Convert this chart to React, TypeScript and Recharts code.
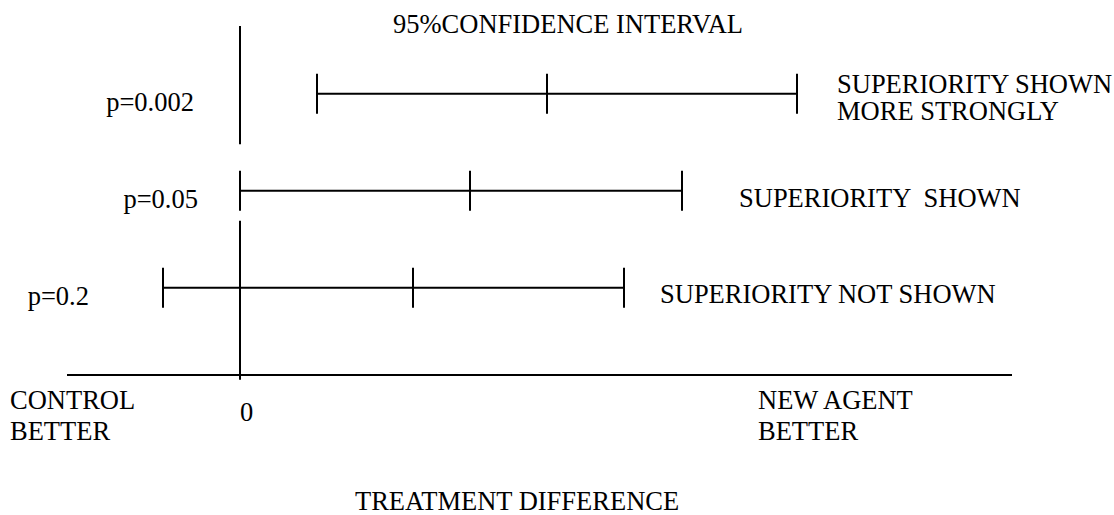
import React from "react";
import {
  ComposedChart,
  XAxis,
  YAxis,
  Scatter,
  ReferenceLine,
  Customized,
} from "recharts";

// rows, top to bottom
const rowNames = ["p=0.002", "p=0.05", "p=0.2"];
const rowLevels = [3, 2, 1];
const lowerBounds = [0.77, 0, -0.77];
const estimates = [3.07, 2.3, 1.73];
const upperBounds = [5.57, 4.42, 3.84];
const outcomeLines = [
  ["SUPERIORITY SHOWN", "MORE STRONGLY"],
  ["SUPERIORITY  SHOWN"],
  ["SUPERIORITY NOT SHOWN"],
];

// axis ranges and the broken zero line
const xRange = [-1.73, 7.72];
const yRange = [0.1, 3.7];
const zeroLineSegments = [
  [3.7, 2.48],
  [1.69, 0.05],
];

const FONT = '"Liberation Serif", "Times New Roman", Times, serif';
const FS = 26.5;
const INK = "#000";
const textStyle = { fontFamily: FONT, fontSize: FS, whiteSpace: "pre" as const };

// layout of the free text (pixels)
const rowLabelRight = [194, 198, 89];
const outcomeX = [837, 739, 660];
const outcomeBaseline = [93, 207, 303];

const intervalData = rowLevels.map((y, i) => [
  { x: lowerBounds[i], y },
  { x: estimates[i], y },
  { x: upperBounds[i], y },
]);

const TickMark = (props: any) => {
  const { cx, cy } = props;
  return (
    <line x1={cx} x2={cx} y1={cy - 20} y2={cy + 20} stroke={INK} strokeWidth={2} />
  );
};

const RowLabel = (props: any) => {
  const { y, payload } = props;
  const i = rowLevels.indexOf(payload.value);
  if (i < 0) return null;
  return (
    <text x={rowLabelRight[i]} y={y + 17} textAnchor="end" fill={INK} style={textStyle}>
      {rowNames[i]}
    </text>
  );
};

const ZeroTick = (props: any) => {
  const { x, y } = props;
  return (
    <text x={x} y={y + 38} textAnchor="start" fill={INK} style={textStyle}>
      0
    </text>
  );
};

const txt = (s: string, x: number, y: number) => (
  <text key={s + x + y} x={x} y={y} fill={INK} style={textStyle}>
    {s}
  </text>
);

const Annotations = () => (
  <g>
    {txt("95%CONFIDENCE INTERVAL", 393, 33)}
    {outcomeLines.map((lines, i) =>
      lines.map((s, j) => txt(s, outcomeX[i], outcomeBaseline[i] + j * 27))
    )}
    {txt("CONTROL", 10, 409)}
    {txt("BETTER", 10, 440)}
    {txt("NEW AGENT", 758, 409)}
    {txt("BETTER", 758, 440)}
    {txt("TREATMENT DIFFERENCE", 355, 510)}
  </g>
);

export default function App() {
  return (
    <div style={{ position: "absolute", left: 0, top: 0, background: "#fff" }}>
      <ComposedChart
        width={1114}
        height={515}
        margin={{ top: 26, right: 102, bottom: 139, left: 66 }}
      >
        <XAxis
          type="number"
          dataKey="x"
          domain={xRange}
          allowDataOverflow
          height={1}
          ticks={[0]}
          tickLine={false}
          axisLine={{ stroke: INK, strokeWidth: 2 }}
          tick={<ZeroTick />}
        />
        <YAxis
          type="number"
          dataKey="y"
          domain={yRange}
          allowDataOverflow
          width={1}
          ticks={rowLevels}
          axisLine={false}
          tickLine={false}
          tick={<RowLabel />}
        />
        {zeroLineSegments.map(([top, bottom], i) => (
          <ReferenceLine
            key={i}
            segment={[
              { x: 0, y: top },
              { x: 0, y: bottom },
            ]}
            stroke={INK}
            strokeWidth={2}
            ifOverflow="visible"
          />
        ))}
        {intervalData.map((d, i) => (
          <Scatter
            key={rowNames[i]}
            data={d}
            line={{ stroke: INK, strokeWidth: 2 }}
            lineType="joint"
            shape={<TickMark />}
            isAnimationActive={false}
          />
        ))}
        <Customized component={Annotations} />
      </ComposedChart>
    </div>
  );
}
